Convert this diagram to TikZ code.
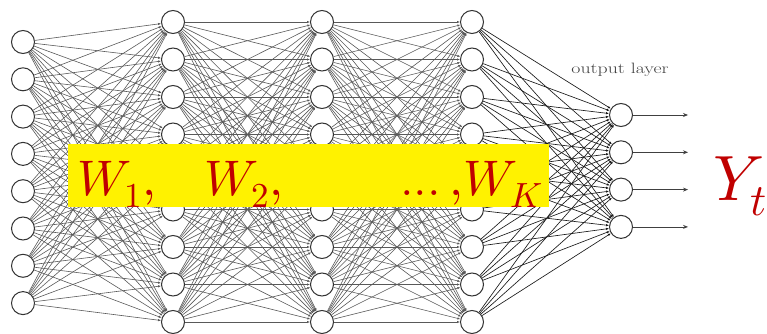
\documentclass[tikz,border=0pt]{standalone}
\usepackage{fontspec}
\usepackage{unicode-math}
\setmathfont{Latin Modern Math}
\usetikzlibrary{arrows.meta}
\definecolor{wred}{HTML}{C00000}
\begin{document}
\begin{tikzpicture}[x=1pt,y=-1pt,
  neuron/.style={circle,draw=black!80,line width=1pt,fill=white,minimum size=23pt,inner sep=0pt},
  edge/.style={black!65,line width=0.6pt,-{Latex[length=3pt,width=2.4pt]}},
  lastedge/.style={black!90,line width=0.65pt,-{Latex[length=3pt,width=2.4pt]}},
  outarrow/.style={black!75,line width=0.8pt,-{Stealth[length=5pt,width=4pt]}},
  wtext/.style={text=wred,inner sep=0pt,font=\fontsize{50}{60}\selectfont},
  ybox/.style={fill=yellow,draw=none,inner sep=0pt,minimum width=481pt,minimum height=63pt}]
\useasboundingbox (0,0) rectangle (767,334);
% neurons
\foreach \i in {1,...,8} \node[neuron] (a\i) at (23,{42+(\i-1)*37.3}) {};
\foreach \j in {1,...,9} {
  \node[neuron] (b\j) at (173,{22+(\j-1)*37.5}) {};
  \node[neuron] (c\j) at (322,{22+(\j-1)*37.5}) {};
  \node[neuron] (d\j) at (472,{22+(\j-1)*37.5}) {};
}
\foreach \k in {1,...,4} {
  \node[neuron] (o\k) at (621,{115+(\k-1)*37.3}) {};
  \coordinate (e\k) at (688,{115+(\k-1)*37.3});
}
% connections
\foreach \i in {1,...,8} \foreach \j in {1,...,9} \draw[edge] (a\i) -- (b\j);
\foreach \i in {1,...,9} \foreach \j in {1,...,9} {
  \draw[edge] (b\i) -- (c\j);
  \draw[edge] (c\i) -- (d\j);
}
\foreach \i in {1,...,9} \foreach \k in {1,...,4} \draw[lastedge] (d\i) -- (o\k);
\foreach \k in {1,...,4} \draw[outarrow] (o\k) -- (e\k);
% label
\node[anchor=base,text=black!75,inner sep=0pt,font=\fontsize{15}{17}\selectfont] (ol) at (620,74) {\scalebox{1.32}[1]{output layer}};
% yellow box with weights
\node[ybox] (wbox) at (308.5,175.5) {};
\node[wtext,anchor=base west] (w1) at (77,195) {$W_1,$};
\node[wtext,anchor=base west] (w2) at (204,195) {$W_2,$};
\node[wtext,anchor=base west] (wd) at (400,195) {$\ldotp\!\ldotp\!\ldotp,$};
\node[wtext,anchor=base west] (wk) at (463,195) {$W_K$};
\node[wtext,anchor=base west,font=\fontsize{64}{72}\selectfont] (yt) at (713,200) {$Y_t$};
\end{tikzpicture}
\end{document}
